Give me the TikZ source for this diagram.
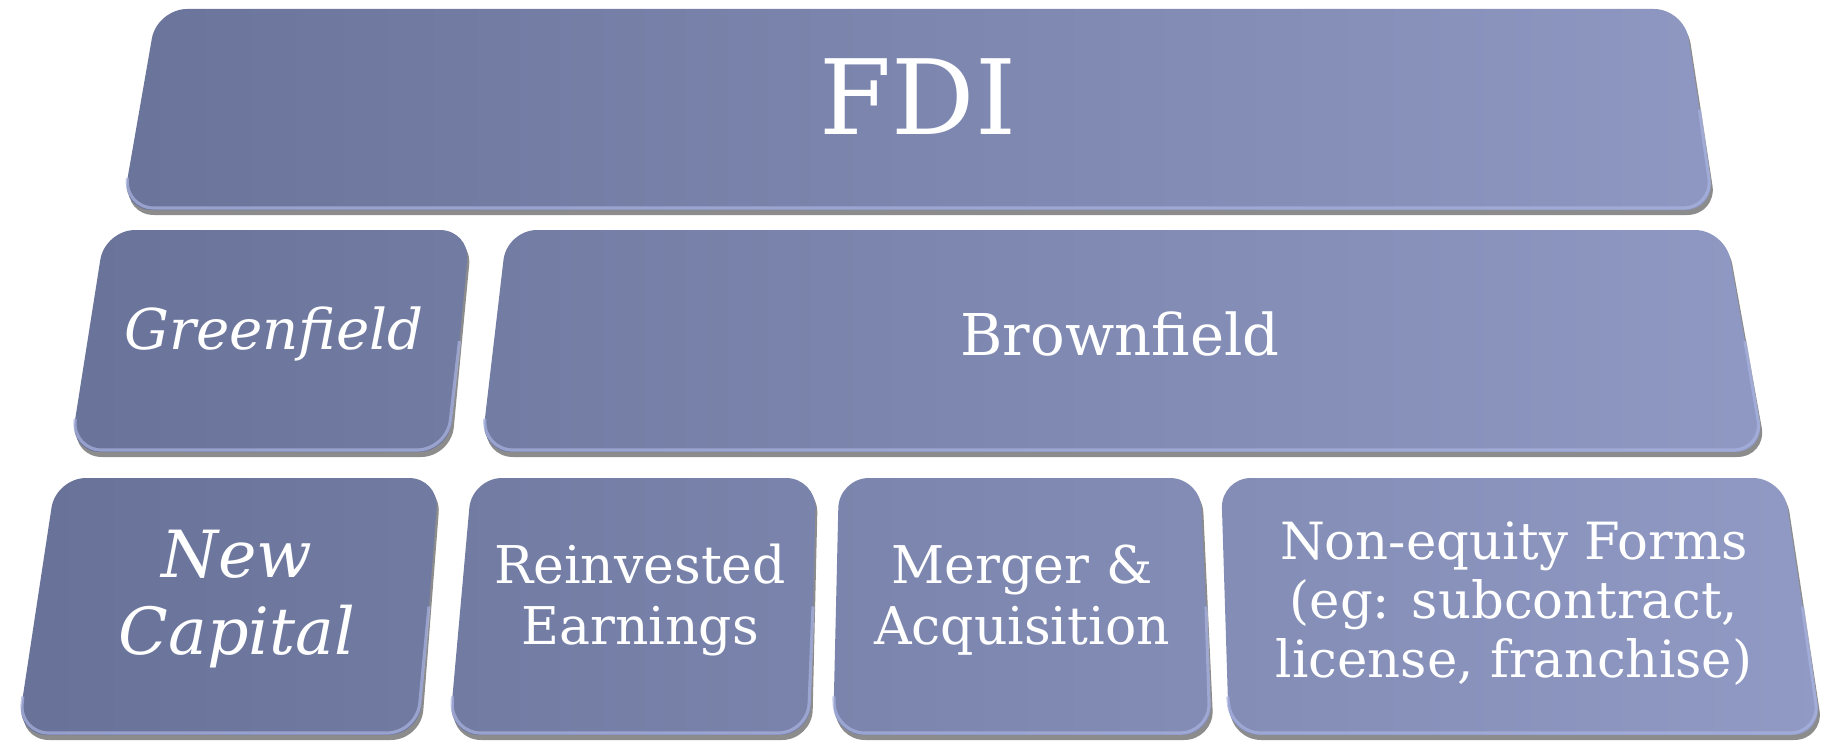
\documentclass[tikz,border=0pt]{standalone}
\usepackage{fontspec}
\setmainfont{DejaVu Serif}
\usepackage{tikz}
\usetikzlibrary{calc}

\definecolor{slabdark}{RGB}{104,114,152}
\definecolor{slablight}{RGB}{144,154,196}
\definecolor{slabedge}{RGB}{170,180,225}

\begin{document}
\begin{tikzpicture}[
  slabshadow/.style={fill=black, opacity=0.45, rounded corners=0.3cm},
  slabclip/.style={rounded corners=0.3cm},
  slabrim/.style={draw=slabedge, line width=0.9pt, opacity=0.7, rounded corners=0.3cm},
  lbl/.style={text=white, align=center, inner sep=0pt},
  small/.style={lbl, font=\fontsize{14.8}{17.4}\selectfont}
]
\useasboundingbox (0,0) rectangle (18.27,7.41);

% slabs: top-left x / top-right x / bottom-right x / bottom-left x / top y / bottom y
\foreach \tl/\tr/\br/\bl/\ty/\by in {
  1.57/16.84/17.15/1.22/7.32/5.31,
  1.05/4.70/4.49/0.70/5.11/2.89,
  5.07/17.25/17.65/4.81/5.11/2.89,
  0.56/4.39/4.19/0.17/2.63/0.06,
  4.72/8.16/8.10/4.49/2.63/0.06,
  8.39/12.00/12.12/8.33/2.63/0.06,
  12.21/17.83/18.22/12.29/2.63/0.06}
{
  \fill[slabshadow] (\tl+0.02,\ty-0.05) -- (\tr+0.02,\ty-0.05) -- (\br+0.02,\by-0.05) -- (\bl+0.02,\by-0.05) -- cycle;
  \begin{scope}
    \clip[slabclip] (\tl,\ty) -- (\tr,\ty) -- (\br,\by) -- (\bl,\by) -- cycle;
    \shade[left color=slabdark, right color=slablight] (0,0) rectangle (18.27,7.41);
  \end{scope}
  \draw[slabrim] ($(\tr,\ty)!0.5!(\br,\by)$) -- (\br-0.02,\by+0.02) -- (\bl+0.02,\by+0.02) -- ($(\tl,\ty)!0.85!(\bl,\by)$);
}

\node[lbl, font=\fontsize{29.6}{34}\selectfont] (fdi) at (9.18,6.44) {FDI};
\node[lbl, font=\fontsize{16}{19}\selectfont\itshape] (green) at (2.74,4.07) {Greenfield};
\node[lbl, font=\fontsize{16.4}{19}\selectfont] (brown) at (11.20,4.07) {Brownfield};

\node[lbl, font=\fontsize{18.5}{22}\selectfont\itshape] (newcap) at (2.37,1.42) {New\\Capital};
\node[small] (reinv) at (6.40,1.41) {Reinvested\\Earnings};
\node[small] (merger) at (10.22,1.41) {Merger \&\\Acquisition};
\node[small, font=\fontsize{14.6}{16.8}\selectfont] (noneq) at (15.14,1.37) {Non-equity Forms\\(eg: subcontract,\\license, franchise)};

\end{tikzpicture}
\end{document}
